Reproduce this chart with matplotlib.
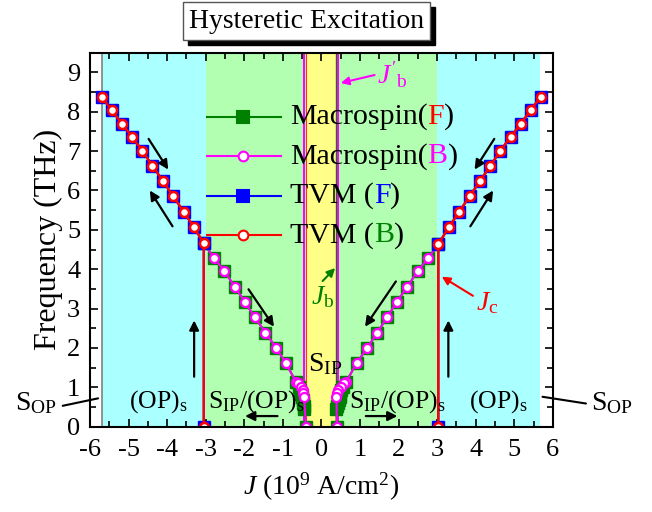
import matplotlib
matplotlib.use("Agg")
import matplotlib.pyplot as plt
from matplotlib.offsetbox import TextArea, HPacker, AnnotationBbox
from matplotlib.patches import Rectangle

plt.rcParams['font.family'] = ['Liberation Serif', 'DejaVu Serif']
plt.rcParams['mathtext.fontset'] = 'custom'
plt.rcParams['mathtext.rm'] = 'Liberation Serif'
plt.rcParams['mathtext.it'] = 'Liberation Serif:italic'
plt.rcParams['mathtext.bf'] = 'Liberation Serif:bold'
plt.rcParams['axes.unicode_minus'] = False

# TVM branch (F and B overlap): vertical jump at Jc then the upper branch
tvm_j_left = [-3.05, -3.05, -3.31, -3.57, -3.84, -4.11, -4.38, -4.65, -4.91, -5.18, -5.44, -5.70]
tvm_f_left = [0.00, 4.66, 5.07, 5.46, 5.85, 6.24, 6.63, 7.01, 7.37, 7.70, 8.05, 8.38]
tvm_j_right = [3.03, 3.03, 3.30, 3.57, 3.84, 4.11, 4.38, 4.64, 4.91, 5.17, 5.43, 5.68]
tvm_f_right = [0.00, 4.64, 5.06, 5.46, 5.85, 6.24, 6.63, 7.01, 7.37, 7.70, 8.05, 8.38]

# Macrospin (F): lower branch, dense near the center
msf_j_left = [-3.05, -2.78, -2.52, -2.25, -1.99, -1.73, -1.45, -1.18, -0.92, -0.66,
              -0.58, -0.55, -0.53, -0.51, -0.49, -0.47, -0.46, -0.45, -0.40]
msf_f_left = [4.66, 4.28, 3.96, 3.56, 3.18, 2.78, 2.39, 2.01, 1.61, 1.14,
              1.00, 0.92, 0.84, 0.76, 0.68, 0.60, 0.52, 0.45, 0.00]
msf_j_right = [3.03, 2.77, 2.50, 2.23, 1.96, 1.70, 1.45, 1.19, 0.91, 0.64,
               0.55, 0.52, 0.49, 0.47, 0.45, 0.43, 0.41, 0.39, 0.40]
msf_f_right = [4.64, 4.28, 3.96, 3.56, 3.18, 2.78, 2.39, 2.01, 1.61, 1.14,
               1.00, 0.92, 0.84, 0.76, 0.68, 0.60, 0.52, 0.45, 0.00]

# Macrospin (B)
msb_j_left = [-3.05, -2.78, -2.52, -2.25, -1.99, -1.73, -1.45, -1.18, -0.92, -0.66,
              -0.60, -0.53, -0.49, -0.47, -0.45, -0.40]
msb_f_left = [4.66, 4.28, 3.96, 3.56, 3.18, 2.78, 2.39, 2.01, 1.61, 1.14,
              1.10, 1.02, 0.93, 0.85, 0.76, 0.00]
msb_j_right = [3.03, 2.77, 2.50, 2.23, 1.96, 1.70, 1.45, 1.19, 0.91, 0.64,
               0.59, 0.50, 0.44, 0.41, 0.39, 0.40]
msb_f_right = [4.64, 4.28, 3.96, 3.56, 3.18, 2.78, 2.39, 2.01, 1.61, 1.14,
               1.10, 1.02, 0.93, 0.85, 0.76, 0.00]

# background phase regions
region_edges = [-5.68, -3.0, -0.40, 0.38, 3.0, 5.66]
region_colors = ['#aaffff', '#b2ffb2', '#ffff88', '#b2ffb2', '#aaffff']

# boundary lines
jb_right = 0.37
jb_left = -0.40
jbp_left = -0.45
jbp_right = 0.43

fig = plt.figure(figsize=(6.52, 5.12), dpi=100)
ax = fig.add_axes([0.138, 0.1666, 0.710, 0.7305])

for i, c in enumerate(region_colors):
    ax.axvspan(region_edges[i], region_edges[i + 1], color=c, lw=0, zorder=0)
ax.axvline(region_edges[0], color='gray', lw=1.2, zorder=1)

ax.axvline(jbp_left, color='#ff00ff', lw=1.5, zorder=1)
ax.axvline(jb_left, color='#ff3030', lw=0.8, zorder=1)
ax.axvline(jb_right, color='#008000', lw=1.0, zorder=1)
ax.axvline(jbp_right, color='#ff00ff', lw=1.5, zorder=1)

green = '#008000'
mag = '#ff00ff'
blue = '#0000ff'
red = '#ff0000'

for jj, ff in [(msf_j_left, msf_f_left), (msf_j_right, msf_f_right)]:
    ax.plot(jj, ff, '-s', color=green, ms=8, lw=1.5, zorder=3)
for jj, ff in [(msb_j_left, msb_f_left), (msb_j_right, msb_f_right)]:
    ax.plot(jj, ff, '-o', color=mag, mfc='white', mec=mag, ms=6.5, mew=1.6, lw=1.5, zorder=4)
for jj, ff in [(tvm_j_left, tvm_f_left), (tvm_j_right, tvm_f_right)]:
    ax.plot(jj, ff, '-s', color=blue, ms=8, lw=1.5, zorder=5)
for jj, ff in [(tvm_j_left, tvm_f_left), (tvm_j_right, tvm_f_right)]:
    ax.plot(jj, ff, '-o', color=red, mfc='white', mec=red, ms=6.5, mew=1.8, lw=1.8, zorder=6)

ax.set_xlim(-6, 6)
ax.set_ylim(0, 9.5)
ax.set_xticks(range(-6, 7))
ax.set_yticks(range(0, 10))
ax.set_xticks([x + 0.5 for x in range(-6, 6)], minor=True)
ax.set_yticks([y + 0.5 for y in range(0, 9)], minor=True)
ax.tick_params(which='both', direction='in', top=True, right=True, labelsize=19, width=1.2)
ax.tick_params(which='major', length=6)
ax.tick_params(which='minor', length=4)
ax.tick_params(axis='x', pad=9)
ax.tick_params(axis='y', pad=7)
for s in ax.spines.values():
    s.set_linewidth(1.5)
    s.set_zorder(10)

ax.set_xlabel(r'$J$ (10$^9$ A/cm$^2$)', fontsize=20, labelpad=7)
ax.set_ylabel('Frequency (THz)', fontsize=23, labelpad=3)

# legend drawn by hand so the letters in brackets can be coloured
legend_rows = [
    ('Macrospin(', 'F', red, green, 's', green),
    ('Macrospin(', 'B', mag, mag, 'o', 'white'),
    ('TVM (', 'F', blue, blue, 's', blue),
    ('TVM (', 'B', green, red, 'o', 'white'),
]
legend_y = [0.829, 0.723, 0.618, 0.512]
for (pre, letter, lc, col, mk, mfc), y in zip(legend_rows, legend_y):
    ax.plot([0.253, 0.4125], [y, y], color=col, lw=1.5, transform=ax.transAxes, zorder=7)
    ax.plot([0.331], [y], marker=mk, color=col, mfc=mfc, mec=col,
            ms=9 if mk == 's' else 7, mew=1.5, transform=ax.transAxes, zorder=8)
    tp = dict(fontsize=21.5, family='Liberation Serif')
    box = HPacker(children=[TextArea(pre, textprops=dict(color='k', **tp)),
                            TextArea(letter, textprops=dict(color=lc, **tp)),
                            TextArea(')', textprops=dict(color='k', **tp))],
                  sep=0, pad=0, align='baseline')
    ab = AnnotationBbox(box, (0.432, y), xycoords='axes fraction', box_alignment=(0, 0.5),
                        frameon=False, pad=0, zorder=9)
    ax.add_artist(ab)

# black arrows showing the sweep direction
arrows = [
    ((-4.48, 7.31), (-3.97, 6.53)),
    ((-3.86, 5.09), (-4.45, 6.00)),
    ((-3.30, 1.27), (-3.30, 2.70)),
    ((-1.89, 3.49), (-1.23, 2.54)),
    ((-1.14, 0.27), (-1.98, 0.27)),
    ((4.48, 7.31), (3.97, 6.53)),
    ((3.86, 5.09), (4.45, 6.00)),
    ((3.29, 1.27), (3.29, 2.70)),
    ((1.93, 3.69), (1.13, 2.54)),
    ((1.15, 0.27), (1.97, 0.27)),
]
for tail, head in arrows:
    ax.annotate('', xy=head, xytext=tail,
                arrowprops=dict(arrowstyle='-|>', color='k', lw=1.6, mutation_scale=14,
                                shrinkA=0, shrinkB=0), zorder=8)

# labelled boundaries
ax.annotate(r'$J_\mathrm{b}$', xy=(0.355, 4.03), xytext=(-0.28, 3.3), color=green, fontsize=20,
            va='center', ha='left',
            arrowprops=dict(arrowstyle='-|>', color=green, lw=1.5, mutation_scale=12,
                            shrinkA=0, shrinkB=0, relpos=(0.4, 1.0)), zorder=8)
ax.annotate(r"$J'_\mathrm{b}$", xy=(0.50, 8.73), xytext=(1.45, 8.95), color=mag, fontsize=20,
            va='center', ha='left',
            arrowprops=dict(arrowstyle='-|>', color=mag, lw=1.5, mutation_scale=12,
                            shrinkA=0, shrinkB=0, relpos=(0.0, 0.5)), zorder=8)
ax.annotate(r'$J_\mathrm{c}$', xy=(3.12, 3.81), xytext=(4.00, 3.15), color=red, fontsize=20,
            va='center', ha='left',
            arrowprops=dict(arrowstyle='-|>', color=red, lw=1.5, mutation_scale=12,
                            shrinkA=0, shrinkB=0, relpos=(0.0, 0.7)), zorder=8)

# phase labels
lab = dict(fontsize=18.5, va='center', ha='left', zorder=8)
ax.text(-4.98, 0.64, r'(OP)$_\mathrm{s}$', **lab)
ax.text(3.83, 0.64, r'(OP)$_\mathrm{s}$', **lab)
ax.text(-2.94, 0.64, r'S$_\mathrm{IP}$/(OP)$_\mathrm{s}$', **lab)
ax.text(0.72, 0.64, r'S$_\mathrm{IP}$/(OP)$_\mathrm{s}$', **lab)
ax.text(-0.36, 1.58, r'S$_\mathrm{IP}$', fontsize=20, va='center', ha='left', zorder=8)

ax.annotate(r'S$_\mathrm{OP}$', xy=(-5.79, 0.72), xytext=(-6.85, 0.60), fontsize=20,
            va='center', ha='right', annotation_clip=False,
            arrowprops=dict(arrowstyle='-', color='k', lw=1.5, shrinkA=2, shrinkB=0,
                            relpos=(1.0, 0.35)), zorder=8)
ax.annotate(r'S$_\mathrm{OP}$', xy=(5.73, 0.76), xytext=(7.0, 0.60), fontsize=20,
            va='center', ha='left', annotation_clip=False,
            arrowprops=dict(arrowstyle='-', color='k', lw=1.5, shrinkA=2, shrinkB=0,
                            relpos=(0.0, 0.45)), zorder=8)

# title box with drop shadow
fig.patches.append(Rectangle((188 / 652, 1 - 45 / 512), 247 / 652, 38 / 512,
                             transform=fig.transFigure, fc='k', ec='k', zorder=1))
fig.patches.append(Rectangle((183 / 652, 1 - 40 / 512), 247 / 652, 38 / 512,
                             transform=fig.transFigure, fc='white', ec='#555555', lw=1, zorder=2))
fig.text(306.5 / 652, 1 - 21 / 512, 'Hysteretic Excitation', fontsize=20,
         ha='center', va='center', zorder=3)

fig.savefig('out.png', dpi=100)
